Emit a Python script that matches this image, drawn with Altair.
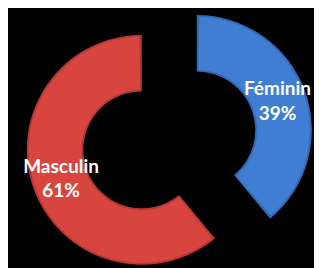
import math
import altair as alt
import pandas as pd

categories = ["Féminin", "Masculin"]
values = [39, 61]
colors = ["#3F7ED3", "#D8453F"]
edge_colors = ["#3469B4", "#B83732"]

# layout constants
CX, CY = 165.5, 132.0
EXPLODE = 30.0
R_OUT, R_IN = 118, 60
R_LABEL = 88
INSET_PX = 2.0

total = sum(values)
rows = []
start = 0.0
for cat, v, col, ecol in zip(categories, values, colors, edge_colors):
    t0 = start / total * 2 * math.pi
    t1 = (start + v) / total * 2 * math.pi
    mid = (t0 + t1) / 2
    cx = CX + EXPLODE * math.sin(mid)
    cy = CY - EXPLODE * math.cos(mid)
    dt = INSET_PX / ((R_OUT + R_IN) / 2)
    rows.append(dict(
        cat=cat, value=v, t0=t0, t1=t1, ti0=t0 + dt, ti1=t1 - dt,
        cx=cx, cy=cy,
        lx=cx + R_LABEL * math.sin(mid), ly=cy - R_LABEL * math.cos(mid),
        label=f"{cat}\n{round(v / total * 100)}%",
        color=col, edge=ecol,
    ))
    start += v

df = pd.DataFrame(rows)
base = alt.Chart(df)

edge = base.mark_arc(radius=R_OUT, radius2=R_IN).encode(
    x=alt.X("cx:Q", scale=None, axis=None),
    y=alt.Y("cy:Q", scale=None, axis=None),
    theta=alt.Theta("t0:Q", scale=None),
    theta2="t1:Q",
    fill=alt.Fill("edge:N", scale=None),
)
face = base.mark_arc(radius=R_OUT - INSET_PX, radius2=R_IN + INSET_PX).encode(
    x=alt.X("cx:Q", scale=None, axis=None),
    y=alt.Y("cy:Q", scale=None, axis=None),
    theta=alt.Theta("ti0:Q", scale=None),
    theta2="ti1:Q",
    fill=alt.Fill("color:N", scale=None),
)
text = base.mark_text(
    font="Lato", fontSize=19.5, fontWeight="bold", color="white",
    lineBreak="\n", lineHeight=25, align="center", baseline="middle", dy=-12,
).encode(
    x=alt.X("lx:Q", scale=None, axis=None),
    y=alt.Y("ly:Q", scale=None, axis=None),
    text="label:N",
)

chart = alt.layer(edge, face, text).properties(
    width=314, height=260, padding=0, autosize="none", background="black"
).configure_view(stroke=None)

chart.save("out.html", embed_options={"renderer": "svg", "actions": False})
